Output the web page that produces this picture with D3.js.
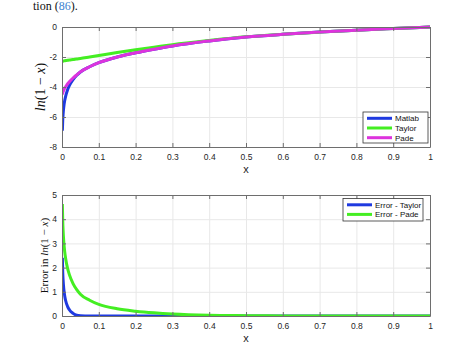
<!DOCTYPE html>
<html>
<head>
<meta charset="utf-8">
<script src="https://cdn.jsdelivr.net/npm/d3@7"></script>
<style>
  html, body { margin: 0; padding: 0; background: #fff; }
  svg { display: block; }
  .tick text { font-family: "Liberation Sans", Arial, sans-serif; font-size: 8.5px; fill: #262626; }
</style>
</head>
<body>
<svg id="chart" width="474" height="345"></svg>
<script>
// Sample abscissae shared by every series
const xs = [0.001, 0.002, 0.003, 0.005, 0.0075, 0.01, 0.015, 0.02, 0.03, 0.04, 0.05, 0.075,
            0.1, 0.15, 0.2, 0.25, 0.3, 0.4, 0.5, 0.6, 0.7, 0.8, 0.9, 1.0];

// Upper panel: exact value and the two approximations
const matlabVals = [-6.91, -6.21, -5.81, -5.30, -4.89, -4.61, -4.20, -3.91, -3.51, -3.22, -3.00, -2.65,
                    -2.38, -2.00, -1.72, -1.48, -1.26, -0.93, -0.67, -0.49, -0.34, -0.21, -0.10, 0];
const taylorVals = [-2.28, -2.28, -2.27, -2.26, -2.25, -2.24, -2.22, -2.20, -2.17, -2.13, -2.10, -2.00,
                    -1.90, -1.70, -1.52, -1.35, -1.18, -0.90, -0.655, -0.485, -0.34, -0.21, -0.10, 0];
const padeVals   = [-4.50, -4.40, -4.32, -4.20, -4.07, -3.98, -3.80, -3.65, -3.40, -3.19, -2.99, -2.65,
                    -2.38, -2.00, -1.72, -1.48, -1.26, -0.93, -0.67, -0.49, -0.34, -0.21, -0.10, 0];

// Lower panel: errors
const errTaylorVals = [2.41, 1.81, 1.49, 1.10, 0.82, 0.63, 0.40, 0.26, 0.11, 0.03, 0.01, 0,
                       0, 0, 0, 0, 0, 0, 0, 0, 0, 0, 0, 0];
const errPadeVals   = [4.63, 3.93, 3.54, 3.04, 2.64, 2.37, 1.98, 1.71, 1.34, 1.09, 0.90, 0.65,
                       0.48, 0.30, 0.20, 0.13, 0.08, 0.03, 0.015, 0.005, 0, 0, 0, 0];

const xTicks = [0, 0.1, 0.2, 0.3, 0.4, 0.5, 0.6, 0.7, 0.8, 0.9, 1];
const yTicksTop = [0, -2, -4, -6, -8];
const yTicksBottom = [0, 1, 2, 3, 4, 5];

const BLUE = "#1f3ae0", GREEN = "#44ee22", MAGENTA = "#dd33dd";

const svg = d3.select("#chart");

// Caption fragment at the very top
const cap = svg.append("text")
  .attr("x", 33).attr("y", 10)
  .attr("font-family", "'Liberation Serif', 'Times New Roman', serif")
  .attr("font-size", 12).attr("fill", "#111");
cap.append("tspan").text("tion (");
cap.append("tspan").attr("fill", "#3a7fd0").text("86");
cap.append("tspan").text(").");

function panel(opts) {
  const { left, right, top, bottom, yDomain, yTicks, series, legend, legendBox } = opts;
  const x = d3.scaleLinear().domain([0, 1]).range([left, right]);
  const y = d3.scaleLinear().domain(yDomain).range([bottom, top]);
  const g = svg.append("g");
  const w = right - left, h = bottom - top;

  // grid
  g.append("g").attr("transform", `translate(0,${bottom})`)
    .call(d3.axisBottom(x).tickValues(xTicks).tickSize(-h).tickFormat(""))
    .call(s => s.select(".domain").remove())
    .call(s => s.selectAll("line").attr("stroke", "#e8e8e8"));
  g.append("g").attr("transform", `translate(${left},0)`)
    .call(d3.axisLeft(y).tickValues(yTicks).tickSize(-w).tickFormat(""))
    .call(s => s.select(".domain").remove())
    .call(s => s.selectAll("line").attr("stroke", "#e8e8e8"));

  // curves
  const clipId = "clip" + top;
  svg.append("clipPath").attr("id", clipId)
    .append("rect").attr("x", left).attr("y", top - 2).attr("width", w + 2).attr("height", h + 2);
  const line = d3.line().x((d, i) => x(xs[i])).y(d => y(d)).curve(d3.curveMonotoneX);
  series.forEach(s => {
    g.append("path").datum(s.values)
      .attr("clip-path", `url(#${clipId})`)
      .attr("fill", "none").attr("stroke", s.color).attr("stroke-width", 3)
      .attr("stroke-linejoin", "round").attr("stroke-linecap", "butt")
      .attr("d", line);
  });

  // frame axes with inward ticks
  const axColor = "#6e6e6e";
  const styleAx = s => {
    s.select(".domain").attr("stroke", axColor);
    s.selectAll(".tick line").attr("stroke", axColor);
  };
  g.append("g").attr("transform", `translate(0,${bottom})`)
    .call(d3.axisBottom(x).tickValues(xTicks).tickSizeInner(-4).tickSizeOuter(0).tickPadding(7)
      .tickFormat(d => d === 0 ? "0" : d === 1 ? "1" : d3.format(".1f")(d)))
    .call(styleAx);
  g.append("g").attr("transform", `translate(0,${top})`)
    .call(d3.axisTop(x).tickValues(xTicks).tickSizeInner(-4).tickSizeOuter(0).tickFormat(""))
    .call(styleAx);
  g.append("g").attr("transform", `translate(${left},0)`)
    .call(d3.axisLeft(y).tickValues(yTicks).tickSizeInner(-4).tickSizeOuter(0).tickPadding(5)
      .tickFormat(d => (d < 0 ? "-" : "") + Math.abs(d)))
    .call(styleAx);
  g.append("g").attr("transform", `translate(${right},0)`)
    .call(d3.axisRight(y).tickValues(yTicks).tickSizeInner(-4).tickSizeOuter(0).tickFormat(""))
    .call(styleAx);

  // x label
  g.append("text").attr("x", x(0.5)).attr("y", bottom + 26)
    .attr("text-anchor", "middle")
    .attr("font-family", "'Liberation Sans', Arial, sans-serif").attr("font-size", 11)
    .attr("fill", "#262626").text("x");

  // legend
  const lb = legendBox;
  const lg = g.append("g");
  lg.append("rect").attr("x", lb.x).attr("y", lb.y).attr("width", lb.w).attr("height", lb.h)
    .attr("fill", "#fff").attr("stroke", "#333").attr("stroke-width", 0.8);
  legend.forEach((d, i) => {
    const cy = lb.y + 6.3 + i * lb.step;
    lg.append("line").attr("x1", lb.x + 4).attr("x2", lb.x + 29).attr("y1", cy).attr("y2", cy)
      .attr("stroke", d.color).attr("stroke-width", 3);
    lg.append("text").attr("x", lb.x + 32).attr("y", cy + 3)
      .attr("font-family", "'Liberation Sans', Arial, sans-serif").attr("font-size", 8)
      .attr("fill", "#111").text(d.label);
  });
  return g;
}

panel({
  left: 62, right: 430, top: 27, bottom: 147,
  yDomain: [-8, 0], yTicks: yTicksTop,
  series: [
    { values: matlabVals, color: BLUE },
    { values: taylorVals, color: GREEN },
    { values: padeVals, color: MAGENTA }
  ],
  legend: [
    { label: "Matlab", color: BLUE },
    { label: "Taylor", color: GREEN },
    { label: "Pade", color: MAGENTA }
  ],
  legendBox: { x: 363, y: 112, w: 65, h: 31, step: 9.7 }
});

panel({
  left: 62, right: 430, top: 195, bottom: 316,
  yDomain: [0, 5], yTicks: yTicksBottom,
  series: [
    { values: errTaylorVals, color: BLUE },
    { values: errPadeVals, color: GREEN }
  ],
  legend: [
    { label: "Error - Taylor", color: BLUE },
    { label: "Error - Pade", color: GREEN }
  ],
  legendBox: { x: 343, y: 198.5, w: 80, h: 22.5, step: 9.6 }
});

// y-axis titles
const serif = "'Liberation Serif', 'Times New Roman', serif";
const t1 = svg.append("text")
  .attr("transform", "translate(45,87) rotate(-90)")
  .attr("text-anchor", "middle").attr("font-family", serif).attr("font-size", 14).attr("fill", "#111");
t1.append("tspan").attr("font-style", "italic").text("ln");
t1.append("tspan").text("(1 \u2212 ");
t1.append("tspan").attr("font-style", "italic").text("x");
t1.append("tspan").text(")");

const t2 = svg.append("text")
  .attr("transform", "translate(48,255.5) rotate(-90)")
  .attr("text-anchor", "middle").attr("font-family", serif).attr("font-size", 11).attr("fill", "#111");
t2.append("tspan").text("Error in ");
t2.append("tspan").attr("font-style", "italic").text("ln");
t2.append("tspan").text("(1 \u2212 ");
t2.append("tspan").attr("font-style", "italic").text("x");
t2.append("tspan").text(")");
</script>
</body>
</html>
